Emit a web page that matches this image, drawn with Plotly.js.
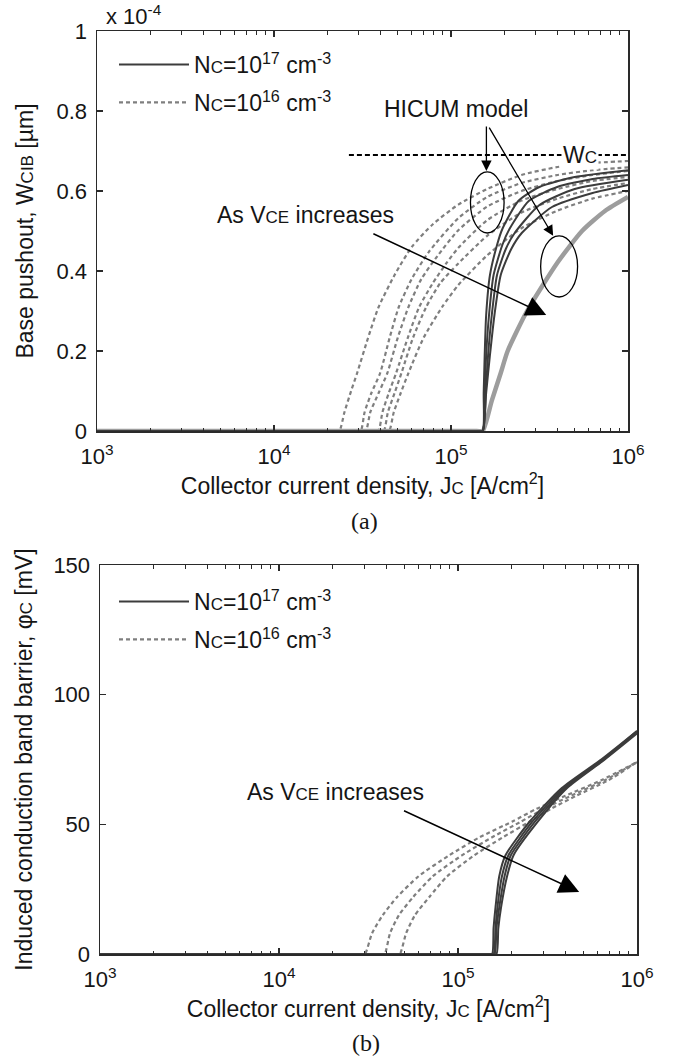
<!DOCTYPE html>
<html>
<head>
<meta charset="utf-8">
<script src="https://cdn.plot.ly/plotly-3.0.1.min.js"></script>
<style>html,body{margin:0;padding:0;background:#fff;}#chart{width:674px;height:1059px;}</style>
</head>
<body>
<div id="chart"></div>
<script>
// ---------- Data (a): base pushout W_CIB (x 1e-4 µm) vs Jc (A/cm^2) ----------
// Nc = 1e17 cm^-3 (solid, simulated)
const a_s1_J = [1e3, 1.4e5, 1.51e5, 1.53e5, 1.55e5, 1.58e5, 1.66e5, 1.82e5, 1.95e5, 2.4e5, 3.16e5, 5.0e5, 1e6];
const a_s1_W = [0, 0, 0, 0.095, 0.19, 0.29, 0.39, 0.465, 0.505, 0.575, 0.61, 0.635, 0.652];
const a_s2_J = [1e3, 1.4e5, 1.51e5, 1.55e5, 1.58e5, 1.64e5, 1.74e5, 1.95e5, 2.14e5, 2.75e5, 3.98e5, 6.31e5, 1e6];
const a_s2_W = [0, 0, 0, 0.095, 0.19, 0.29, 0.39, 0.465, 0.505, 0.575, 0.61, 0.63, 0.64];
const a_s3_J = [1e3, 1.4e5, 1.51e5, 1.57e5, 1.62e5, 1.70e5, 1.82e5, 2.04e5, 2.29e5, 3.16e5, 5.0e5, 1e6];
const a_s3_W = [0, 0, 0, 0.095, 0.19, 0.29, 0.39, 0.455, 0.495, 0.565, 0.605, 0.628];
const a_s4_J = [1e3, 1.4e5, 1.51e5, 1.58e5, 1.66e5, 1.76e5, 1.91e5, 2.19e5, 2.51e5, 3.72e5, 6.31e5, 1e6];
const a_s4_W = [0, 0, 0, 0.095, 0.19, 0.29, 0.39, 0.455, 0.495, 0.56, 0.595, 0.615];
// HICUM model, Nc = 1e17 (thick light grey)
const a_h_J = [1e3, 1.4e5, 1.51e5, 1.70e5, 1.91e5, 2.09e5, 2.69e5, 3.98e5, 5.5e5, 7.41e5, 1e6];
const a_h_W = [0, 0, 0, 0.076, 0.145, 0.2, 0.3, 0.42, 0.5, 0.55, 0.585];
// Nc = 1e16 cm^-3 (dashed)
const a_d1_J = [1e3, 2.2e4, 2.34e4, 2.5e4, 2.75e4, 2.95e4, 3.4e4, 3.9e4, 4.8e4, 6.0e4, 7.9e4, 1.1e5, 1.6e5, 2.5e5, 4e5, 6.3e5, 1e6];
const a_d1_W = [0, 0, 0, 0.047, 0.105, 0.145, 0.233, 0.31, 0.39, 0.46, 0.517, 0.566, 0.605, 0.64, 0.66, 0.67, 0.675];
const a_d2_J = [1e3, 2.9e4, 3.09e4, 3.25e4, 3.55e4, 3.98e4, 4.5e4, 5.07e4, 6.0e4, 7.5e4, 1.1e5, 1.6e5, 2.5e5, 4e5, 6.3e5, 1e6];
const a_d2_W = [0, 0, 0, 0.047, 0.095, 0.145, 0.233, 0.31, 0.38, 0.448, 0.532, 0.585, 0.62, 0.64, 0.652, 0.659];
const a_d3_J = [1e3, 3.1e4, 3.3e4, 3.5e4, 3.9e4, 4.37e4, 5.0e4, 5.75e4, 6.8e4, 8.4e4, 1.1e5, 1.6e5, 2.5e5, 4e5, 6.3e5, 1e6];
const a_d3_W = [0, 0, 0, 0.047, 0.095, 0.145, 0.233, 0.31, 0.38, 0.438, 0.502, 0.561, 0.6, 0.625, 0.64, 0.65];
const a_d4_J = [1e3, 3.65e4, 3.89e4, 4.1e4, 4.45e4, 4.9e4, 5.7e4, 6.61e4, 7.9e4, 9.4e4, 1.1e5, 1.6e5, 2.5e5, 4e5, 6.3e5, 1e6];
const a_d4_W = [0, 0, 0, 0.047, 0.095, 0.145, 0.233, 0.31, 0.37, 0.419, 0.458, 0.527, 0.576, 0.605, 0.625, 0.635];
const a_d5_J = [1e3, 3.9e4, 4.17e4, 4.4e4, 4.8e4, 5.25e4, 6.1e4, 7.24e4, 8.7e4, 1.1e5, 1.6e5, 2.5e5, 4e5, 6.3e5, 1e6];
const a_d5_W = [0, 0, 0, 0.047, 0.095, 0.145, 0.233, 0.31, 0.37, 0.419, 0.488, 0.546, 0.581, 0.605, 0.62];
const a_d6_J = [1e3, 4.2e4, 4.47e4, 4.75e4, 5.2e4, 5.75e4, 7.0e4, 8.91e4, 1.1e5, 1.6e5, 2.5e5, 4e5, 6.3e5, 1e6];
const a_d6_W = [0, 0, 0, 0.047, 0.095, 0.145, 0.233, 0.31, 0.365, 0.439, 0.507, 0.551, 0.581, 0.6];
const a_Wc = 0.69;

// ---------- Data (b): induced conduction band barrier phi_C (mV) vs Jc ----------
const b_s1_J = [1e3, 1.45e5, 1.55e5, 1.58e5, 1.62e5, 1.70e5, 1.84e5, 2.51e5, 3.8e5, 6.31e5, 1e6];
const b_s1_P = [0, 0, 0, 10, 18, 30, 38, 51, 64, 75, 86];
const b_s2_J = [1e3, 1.48e5, 1.58e5, 1.62e5, 1.66e5, 1.76e5, 1.91e5, 2.6e5, 3.89e5, 6.46e5, 1e6];
const b_s2_P = [0, 0, 0, 10, 18, 30, 38, 51, 64, 75, 86];
const b_s3_J = [1e3, 1.5e5, 1.60e5, 1.64e5, 1.70e5, 1.82e5, 1.97e5, 2.69e5, 3.98e5, 6.53e5, 1e6];
const b_s3_P = [0, 0, 0, 10, 18, 30, 38, 51, 64, 75, 85.5];
const b_s4_J = [1e3, 1.53e5, 1.64e5, 1.68e5, 1.74e5, 1.88e5, 2.04e5, 2.79e5, 4.07e5, 6.61e5, 1e6];
const b_s4_P = [0, 0, 0, 10, 18, 30, 38, 51, 64, 75, 85];
const b_d1_J = [1e3, 2.85e4, 3.02e4, 3.31e4, 3.8e4, 4.57e4, 6.03e4, 8.91e4, 1.32e5, 2.0e5, 2.75e5, 3.98e5, 6.31e5, 1e6];
const b_d1_P = [0, 0, 0, 8, 15, 22, 30, 38, 45, 51, 56, 61, 67, 74];
const b_d2_J = [1e3, 3.65e4, 3.89e4, 4.17e4, 4.68e4, 5.62e4, 7.24e4, 1.05e5, 1.55e5, 2.24e5, 3.02e5, 4.27e5, 6.61e5, 1e6];
const b_d2_P = [0, 0, 0, 8, 15, 22, 30, 38, 45, 51, 56, 61, 67, 74];
const b_d3_J = [1e3, 4.45e4, 4.73e4, 5.13e4, 5.75e4, 6.92e4, 8.71e4, 1.23e5, 1.78e5, 2.51e5, 3.31e5, 4.57e5, 6.92e5, 1e6];
const b_d3_P = [0, 0, 0, 8, 15, 22, 30, 38, 45, 51, 56, 61, 67, 74];

// ---------- Tick labels ----------
const xTickVals = [1e3, 1e4, 1e5, 1e6];
const xTickText = ['10<sup>3</sup>', '10<sup>4</sup>', '10<sup>5</sup>', '10<sup>6</sup>'];
const minorDigits = [2, 3, 4, 5, 6, 7, 8, 9];
const minorDecades = [1e3, 1e4, 1e5];
const minorVals = [];
minorDecades.forEach(d => minorDigits.forEach(m => minorVals.push(m * d)));

const SC = 'font-size:17px';
const legA = 'N<span style="' + SC + '">C</span>=10<sup>17</sup> cm<sup>-3</sup>';
const legB = 'N<span style="' + SC + '">C</span>=10<sup>16</sup> cm<sup>-3</sup>';

// ---------- Styles ----------
const solidC = '#3c3c3c', dashC = '#7f7f7f', hicC = '#9d9d9d';
function solid(x, y, xa, ya, show, leg) {
  return {x, y, xaxis: xa, yaxis: ya, type: 'scatter', mode: 'lines',
    line: {color: solidC, width: 2, shape: 'spline', smoothing: 0.6}, name: legA, showlegend: !!show,
    legend: leg, legendgroup: leg + 'a', legendrank: 1, hoverinfo: 'skip'};
}
function dashed(x, y, xa, ya, show, leg) {
  return {x, y, xaxis: xa, yaxis: ya, type: 'scatter', mode: 'lines',
    line: {color: dashC, width: 2.2, dash: '4px,3px', shape: 'spline', smoothing: 0.6}, name: legB, showlegend: !!show,
    legend: leg, legendgroup: leg + 'b', legendrank: 2, hoverinfo: 'skip'};
}

const traces = [
  dashed(a_d1_J, a_d1_W, 'x', 'y', false, 'legend'),
  dashed(a_d2_J, a_d2_W, 'x', 'y', false, 'legend'),
  dashed(a_d3_J, a_d3_W, 'x', 'y', false, 'legend'),
  dashed(a_d4_J, a_d4_W, 'x', 'y', false, 'legend'),
  dashed(a_d5_J, a_d5_W, 'x', 'y', false, 'legend'),
  dashed(a_d6_J, a_d6_W, 'x', 'y', true, 'legend'),
  {x: a_h_J, y: a_h_W, xaxis: 'x', yaxis: 'y', type: 'scatter', mode: 'lines',
    line: {color: hicC, width: 4.5, shape: 'spline', smoothing: 0.6}, showlegend: false, hoverinfo: 'skip'},
  solid(a_s1_J, a_s1_W, 'x', 'y', true, 'legend'),
  solid(a_s2_J, a_s2_W, 'x', 'y', false, 'legend'),
  solid(a_s3_J, a_s3_W, 'x', 'y', false, 'legend'),
  solid(a_s4_J, a_s4_W, 'x', 'y', false, 'legend'),
  dashed(b_d1_J, b_d1_P, 'x2', 'y2', false, 'legend2'),
  dashed(b_d2_J, b_d2_P, 'x2', 'y2', false, 'legend2'),
  dashed(b_d3_J, b_d3_P, 'x2', 'y2', true, 'legend2'),
  solid(b_s1_J, b_s1_P, 'x2', 'y2', true, 'legend2'),
  solid(b_s2_J, b_s2_P, 'x2', 'y2', false, 'legend2'),
  solid(b_s3_J, b_s3_P, 'x2', 'y2', false, 'legend2'),
  solid(b_s4_J, b_s4_P, 'x2', 'y2', false, 'legend2')
];

const W = 674, H = 1059;
const axCol = '#2a2a2a';
const baseX = {
  type: 'log', range: [3, 6], tickmode: 'array', tickvals: xTickVals, ticktext: xTickText,
  ticks: 'inside', ticklen: 6, tickwidth: 1.2, tickcolor: axCol, mirror: 'ticks',
  showline: true, linecolor: axCol, linewidth: 1.5, showgrid: false, zeroline: false,
  minor: {tickmode: 'array', tickvals: minorVals, ticks: 'inside', ticklen: 3.5, tickwidth: 1, tickcolor: axCol, showgrid: false},
  tickfont: {size: 22}, ticklabelstandoff: 5, automargin: false, fixedrange: true
};
const baseY = {
  ticks: 'inside', ticklen: 6, tickwidth: 1.2, tickcolor: axCol, mirror: 'ticks',
  showline: true, linecolor: axCol, linewidth: 1.5, showgrid: false, zeroline: false,
  tickfont: {size: 22}, ticklabelstandoff: 4, automargin: false, fixedrange: true
};
const xTitle = 'Collector current density, J<span style="' + SC + '">C</span> [A/cm<sup>2</sup>]';

const layout = {
  width: W, height: H, margin: {l: 0, r: 0, t: 0, b: 0},
  paper_bgcolor: '#fff', plot_bgcolor: '#fff',
  font: {family: '"Liberation Sans", Arial, sans-serif', size: 23, color: '#151515'},
  xaxis: Object.assign({}, baseX, {domain: [97 / W, 628 / W], anchor: 'y',
    title: {text: xTitle, standoff: 2, font: {size: 23}}}),
  yaxis: Object.assign({}, baseY, {domain: [1 - 431 / H, 1 - 31 / H], anchor: 'x', range: [0, 1], dtick: 0.2,
    title: {text: 'Base pushout, W<span style="' + SC + '">CIB</span> [µm]', standoff: 16, font: {size: 23}}}),
  xaxis2: Object.assign({}, baseX, {domain: [100 / W, 637 / W], anchor: 'y2',
    title: {text: xTitle, standoff: 2, font: {size: 23}}}),
  yaxis2: Object.assign({}, baseY, {domain: [1 - 954 / H, 1 - 565 / H], anchor: 'x2', range: [0, 150], dtick: 50,
    title: {text: 'Induced conduction band barrier, φ<span style="' + SC + '">C</span> [mV]', standoff: 14, font: {size: 23}}}),
  legend: {x: 114 / W, y: 1 - 43 / H, xanchor: 'left', yanchor: 'top', bgcolor: 'rgba(0,0,0,0)',
    itemwidth: 70, traceorder: 'grouped', tracegroupgap: 5, font: {size: 23}},
  legend2: {x: 114 / W, y: 1 - 580 / H, xanchor: 'left', yanchor: 'top', bgcolor: 'rgba(0,0,0,0)',
    itemwidth: 70, traceorder: 'grouped', tracegroupgap: 5, font: {size: 23}},
  shapes: [
    {type: 'line', xref: 'x', yref: 'y', x0: 2.65e4, x1: 1e6, y0: a_Wc, y1: a_Wc,
      line: {color: '#000', width: 2, dash: '5px,3px'}},
    {type: 'circle', xref: 'x', yref: 'y', x0: 1.288e5, x1: 1.995e5, y0: 0.495, y1: 0.648,
      line: {color: '#000', width: 1.3}},
    {type: 'circle', xref: 'x', yref: 'y', x0: 3.21e5, x1: 5.19e5, y0: 0.335, y1: 0.488,
      line: {color: '#000', width: 1.3}}
  ],
  annotations: [
    {xref: 'paper', yref: 'paper', x: 104 / W, y: 1 - 15 / H, xanchor: 'left', yanchor: 'middle',
      text: 'x 10<sup>-4</sup>', showarrow: false, font: {size: 22}},
    {xref: 'x', yref: 'y', x: 5.03, y: 0.805, text: 'HICUM model', showarrow: false, font: {size: 23}},
    {xref: 'x', yref: 'y', axref: 'x', ayref: 'y', x: 5.20, y: 0.65, ax: 5.20, ay: 0.765,
      text: '', showarrow: true, arrowhead: 2, arrowsize: 1.6, arrowwidth: 1.3, arrowcolor: '#000'},
    {xref: 'x', yref: 'y', axref: 'x', ayref: 'y', x: 5.577, y: 0.488, ax: 5.211, ay: 0.762,
      text: '', showarrow: true, arrowhead: 2, arrowsize: 1.6, arrowwidth: 1.3, arrowcolor: '#000'},
    {xref: 'x', yref: 'y', x: 5.62, y: a_Wc, xanchor: 'left', text: 'W<span style="' + SC + '">C</span>',
      showarrow: false, bgcolor: '#fff', font: {size: 23}},
    {xref: 'x', yref: 'y', x: 4.176, y: 0.54, text: 'As V<span style="' + SC + '">CE</span> increases',
      showarrow: false, font: {size: 23}},
    {xref: 'x', yref: 'y', axref: 'x', ayref: 'y', x: 5.538, y: 0.29, ax: 4.553, ay: 0.495,
      text: '', showarrow: true, arrowhead: 2, arrowsize: 2.7, arrowwidth: 1.5, arrowcolor: '#000'},
    {xref: 'x2', yref: 'y2', x: 4.316, y: 62.5, text: 'As V<span style="' + SC + '">CE</span> increases',
      showarrow: false, font: {size: 23}},
    {xref: 'x2', yref: 'y2', axref: 'x2', ayref: 'y2', x: 5.677, y: 23.9, ax: 4.69, ay: 55.5,
      text: '', showarrow: true, arrowhead: 2, arrowsize: 2.7, arrowwidth: 1.5, arrowcolor: '#000'},
    {xref: 'paper', yref: 'paper', x: 364 / W, y: 1 - 521 / H, xanchor: 'center', yanchor: 'middle', text: '(a)', showarrow: false,
      font: {family: '"Liberation Serif", "Times New Roman", serif', size: 24}},
    {xref: 'paper', yref: 'paper', x: 366 / W, y: 1 - 1043 / H, xanchor: 'center', yanchor: 'middle', text: '(b)', showarrow: false,
      font: {family: '"Liberation Serif", "Times New Roman", serif', size: 24}}
  ]
};

Plotly.newPlot('chart', traces, layout, {staticPlot: true, displayModeBar: false});
</script>
</body>
</html>
